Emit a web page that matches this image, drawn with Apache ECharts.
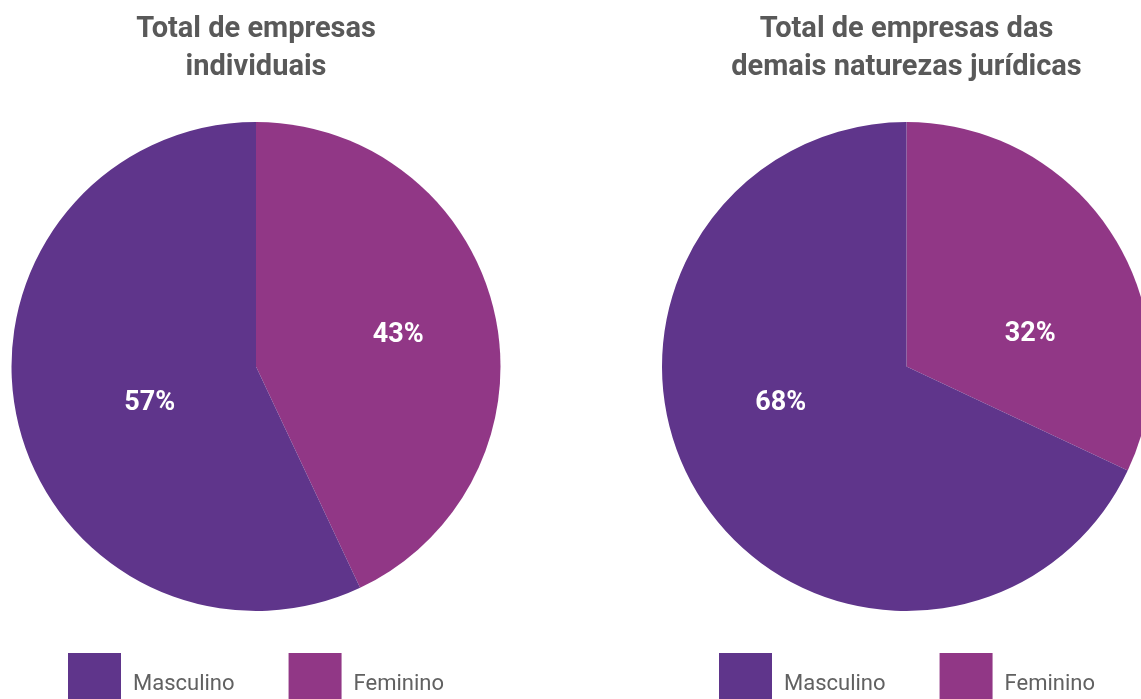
<!DOCTYPE html>
<html>
<head>
<meta charset="utf-8">
<title>Empresas por sexo</title>
<script src="https://cdn.jsdelivr.net/npm/echarts@6/dist/echarts.min.js"></script>
<style>
  html, body { margin: 0; padding: 0; background: #ffffff; }
  #chart { width: 1141px; height: 699px; }
</style>
</head>
<body>
<div id="chart"></div>
<script>
// Categories and shares (percent) for each group of companies
const categories = ['Feminino', 'Masculino'];
const individuais = [43, 57];
const demaisNaturezas = [32, 68];
const titles = ['Total de empresas\nindividuais', 'Total de empresas das\ndemais naturezas jurídicas'];
const legendOrder = ['Masculino', 'Feminino'];

const colors = { Masculino: '#5f358b', Feminino: '#913786' };

// Label nudges (px) per chart, in category order
const labelOffsets = [
  [[20, -4], [16, 9]],
  [[18, 35], [-20, -30]]
];

const centers = [[256, 366.5], [906.5, 366.5]];
const seriesValues = [individuais, demaisNaturezas];

const chart = echarts.init(document.getElementById('chart'), null, { renderer: 'canvas' });

const option = {
  animation: false,
  title: titles.map((t, i) => ({
    text: t,
    left: centers[i][0],
    top: 11,
    padding: 0,
    textAlign: 'center',
    textStyle: {
      fontFamily: 'Roboto',
      fontWeight: 'bold',
      fontSize: 29,
      lineHeight: 38,
      color: '#595959'
    }
  })),
  legend: centers.map((c, i) => ({
    data: legendOrder,
    left: i === 0 ? 68 : 719,
    top: 653,
    padding: 0,
    orient: 'horizontal',
    itemWidth: 53,
    itemHeight: 53,
    itemGap: 54,
    icon: 'rect',
    selectedMode: false,
    formatter: name => '{t|' + name + '}',
    textStyle: {
      fontFamily: 'Roboto',
      fontSize: 22,
      color: '#616161',
      padding: [0, 0, 0, 7],
      rich: {
        t: {
          fontFamily: 'Roboto',
          fontSize: 22,
          color: '#616161',
          padding: [10, 0, 0, 0]
        }
      }
    }
  })),
  series: seriesValues.map((vals, i) => ({
    type: 'pie',
    center: centers[i],
    radius: 244.5,
    startAngle: 90,
    clockwise: true,
    avoidLabelOverlap: false,
    emphasis: { disabled: true },
    label: {
      show: true,
      position: 'inside',
      formatter: p => p.value + '%',
      color: '#ffffff',
      fontFamily: 'Roboto',
      fontWeight: 'bold',
      fontSize: 27
    },
    labelLine: { show: false },
    data: categories.map((name, k) => ({
      name: name,
      value: vals[k],
      itemStyle: { color: colors[name] },
      label: { offset: labelOffsets[i][k] }
    }))
  }))
};

chart.setOption(option);
</script>
</body>
</html>
